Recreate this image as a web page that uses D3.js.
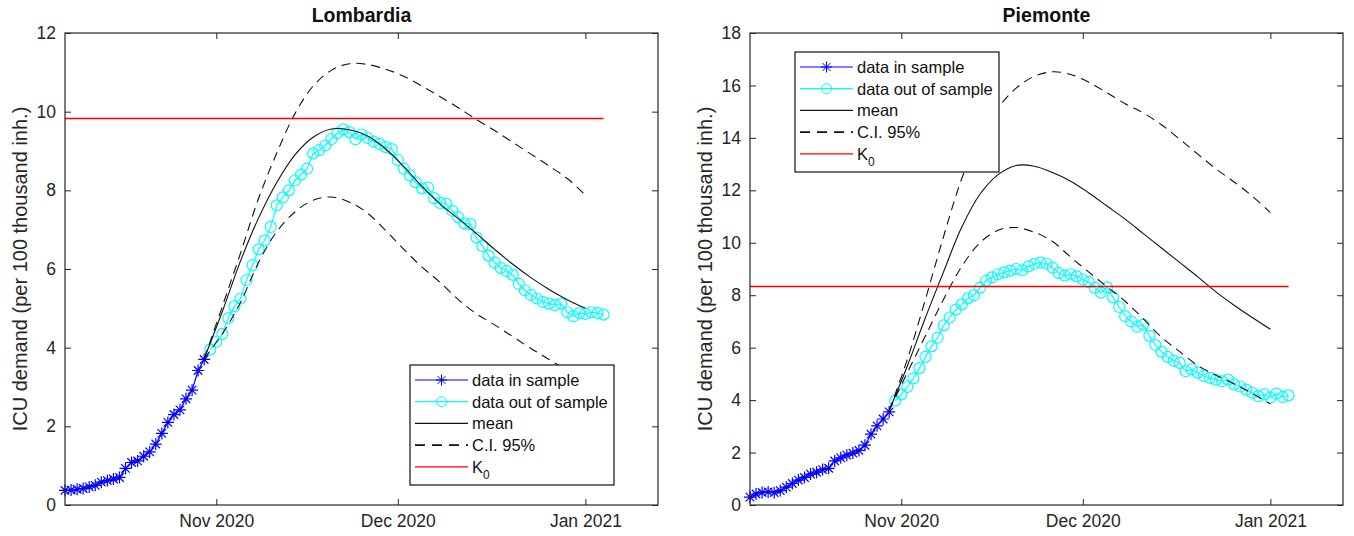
<!DOCTYPE html>
<html>
<head>
<meta charset="utf-8">
<title>ICU demand</title>
<script src="https://cdn.jsdelivr.net/npm/d3@7"></script>
<style>
  body { margin: 0; background: #fff; }
  svg { display: block; font-family: "Liberation Sans", Arial, Helvetica, sans-serif; }
</style>
</head>
<body>
<svg width="1354" height="536"></svg>
<script>
// --- data ---
// days counted from 7 Oct 2020
var startDate = new Date(2020, 9, 7);
var endDate = new Date(2021, 0, 13);
var xTicks = [new Date(2020, 10, 1), new Date(2020, 11, 1), new Date(2021, 0, 1)];
var xTickLabels = ["Nov 2020", "Dec 2020", "Jan 2021"];

var inSampleStart = 0;   // 7 Oct
var outSampleStart = 24; // 31 Oct
var modelDays = [23, 26, 29, 32, 35, 38, 41, 44, 47, 50, 53, 56, 59, 62, 65, 68, 71, 74, 77, 80, 83, 86];

// Lombardia
var lomInSample = [0.37, 0.38, 0.40, 0.42, 0.46, 0.50, 0.58, 0.62, 0.66, 0.70, 0.93, 1.08, 1.12, 1.24,
  1.35, 1.55, 1.82, 2.10, 2.30, 2.42, 2.70, 2.92, 3.42, 3.70];
var lomOutSample = [3.95, 4.15, 4.35, 4.75, 5.05, 5.25, 5.72, 6.10, 6.50, 6.73, 7.07, 7.62, 7.82, 8.00,
  8.25, 8.40, 8.55, 8.94, 9.02, 9.14, 9.30, 9.45, 9.55, 9.48, 9.30, 9.42, 9.33, 9.24, 9.18, 9.10, 9.05,
  8.77, 8.55, 8.38, 8.20, 8.05, 8.07, 7.80, 7.68, 7.66, 7.48, 7.32, 7.16, 7.14, 6.80, 6.58, 6.34, 6.16,
  6.03, 5.95, 5.85, 5.62, 5.46, 5.34, 5.25, 5.16, 5.12, 5.08, 5.12, 4.90, 4.80, 4.88, 4.86, 4.90, 4.88, 4.84];
var lomMean = [3.72, 4.92, 6.20, 7.30, 8.20, 8.90, 9.35, 9.56, 9.54, 9.38, 9.05, 8.60, 8.10, 7.65, 7.28,
  6.90, 6.50, 6.12, 5.78, 5.48, 5.22, 5.00];
var lomUpper = [3.72, 5.05, 6.40, 7.80, 8.95, 9.95, 10.65, 11.05, 11.22, 11.20, 11.08, 10.90, 10.65,
  10.38, 10.10, 9.80, 9.52, 9.22, 8.92, 8.62, 8.30, 7.88];
var lomLower = [3.72, 4.35, 5.15, 6.17, 6.95, 7.45, 7.75, 7.83, 7.70, 7.42, 6.98, 6.50, 6.05, 5.66, 5.22,
  4.86, 4.58, 4.28, 3.98, 3.70, 3.42, 3.15];
var lomK0 = 9.85;

// Piemonte
var pieInSample = [0.30, 0.42, 0.48, 0.50, 0.47, 0.55, 0.68, 0.82, 0.95, 1.05, 1.18, 1.25, 1.35, 1.40,
  1.68, 1.80, 1.90, 1.98, 2.08, 2.28, 2.70, 3.02, 3.28, 3.55];
var pieOutSample = [3.98, 4.22, 4.50, 4.83, 5.22, 5.65, 6.05, 6.38, 6.85, 7.15, 7.45, 7.65, 7.88, 8.00,
  8.28, 8.55, 8.68, 8.80, 8.87, 8.94, 9.00, 8.95, 9.10, 9.20, 9.24, 9.21, 9.05, 8.85, 8.75, 8.80, 8.72,
  8.60, 8.50, 8.28, 8.10, 8.30, 7.92, 7.55, 7.20, 7.00, 6.80, 6.88, 6.45, 6.10, 5.85, 5.65, 5.50, 5.42,
  5.10, 5.18, 5.05, 4.92, 4.85, 4.78, 4.72, 4.78, 4.60, 4.52, 4.40, 4.28, 4.15, 4.22, 4.10, 4.25, 4.12, 4.18];
var pieMean = [3.60, 5.30, 7.15, 8.90, 10.60, 11.85, 12.60, 12.95, 12.92, 12.68, 12.35, 11.90, 11.40,
  10.90, 10.35, 9.80, 9.25, 8.70, 8.13, 7.62, 7.15, 6.70];
var pieUpper = [3.60, 5.55, 7.85, 10.25, 12.45, 14.10, 15.15, 15.90, 16.35, 16.52, 16.42, 16.12, 15.72,
  15.30, 14.95, 14.50, 13.95, 13.38, 12.82, 12.32, 11.78, 11.15];
var pieLower = [3.60, 5.05, 6.45, 7.85, 9.10, 10.00, 10.48, 10.58, 10.40, 10.05, 9.45, 8.88, 8.32, 7.77,
  7.10, 6.40, 5.85, 5.32, 4.95, 4.62, 4.25, 3.85];
var pieK0 = 8.37;

var legendLabels = ["data in sample", "data out of sample", "mean", "C.I. 95%", "K0"];

// --- drawing ---
var svg = d3.select("svg");
var day = function (i) { return d3.timeDay.offset(startDate, i); };
var ink = "#262626";

function starPath(r) {
  var d = r * Math.SQRT1_2;
  return "M" + (-r) + ",0L" + r + ",0M0," + (-r) + "L0," + r +
    "M" + (-d) + "," + (-d) + "L" + d + "," + d + "M" + (-d) + "," + d + "L" + d + "," + (-d);
}

function drawPanel(p) {
  var g = svg.append("g");
  var x = d3.scaleTime().domain([startDate, endDate]).range([p.left, p.right]);
  var y = d3.scaleLinear().domain([0, p.ymax]).range([p.bottom, p.top]);

  var inPts = p.inSample.map(function (v, i) { return { x: day(inSampleStart + i), y: v }; });
  var outPts = p.outSample.map(function (v, i) { return { x: day(outSampleStart + i), y: v }; });
  var lastDay = outSampleStart + p.outSample.length - 1;
  var model = function (arr) { return arr.map(function (v, i) { return { x: day(modelDays[i]), y: v }; }); };

  var dataLine = d3.line().x(function (d) { return x(d.x); }).y(function (d) { return y(d.y); });
  var smooth = d3.line().x(function (d) { return x(d.x); }).y(function (d) { return y(d.y); })
    .curve(d3.curveCatmullRom.alpha(0.5));

  // data in sample
  g.append("path").attr("d", dataLine(inPts)).style("fill", "none").style("stroke", "#0000ff").style("stroke-width", 1.2);
  g.selectAll(".star").data(inPts).enter().append("path")
    .attr("transform", function (d) { return "translate(" + x(d.x) + "," + y(d.y) + ")"; })
    .attr("d", starPath(6)).style("stroke", "#0000ff").style("stroke-width", 1.2).style("fill", "none");

  // data out of sample
  g.append("path").attr("d", dataLine(outPts)).style("fill", "none").style("stroke", "#00ffff").style("stroke-width", 1.2);
  g.selectAll(".circ").data(outPts).enter().append("circle")
    .attr("cx", function (d) { return x(d.x); }).attr("cy", function (d) { return y(d.y); })
    .attr("r", 5.5).style("fill", "none").style("stroke", "#00ffff").style("stroke-width", 1.2);

  // mean and confidence interval
  g.append("path").attr("d", smooth(model(p.mean))).style("fill", "none").style("stroke", "#111").style("stroke-width", 1.1);
  [p.upper, p.lower].forEach(function (arr) {
    g.append("path").attr("d", smooth(model(arr))).style("fill", "none").style("stroke", "#111")
      .style("stroke-width", 1.1).style("stroke-dasharray", "9,6");
  });

  // K0 threshold
  var ky = Math.round(y(p.k0)) + 0.5;
  g.append("path").attr("d", "M" + x(day(0)) + "," + ky + "H" + x(day(lastDay)))
    .style("fill", "none").style("stroke", "#ff0000").style("stroke-width", 1.3);

  // axes (ticks pointing inwards, box around)
  var fmt = function (d, i) { return xTickLabels[i]; };
  var ax = [
    d3.axisBottom(x).tickValues(xTicks).tickFormat(fmt).tickSize(-6).tickPadding(10),
    d3.axisTop(x).tickValues(xTicks).tickFormat("").tickSize(-6),
    d3.axisLeft(y).ticks(6).tickSize(-6).tickPadding(9),
    d3.axisRight(y).ticks(6).tickFormat("").tickSize(-6)
  ];
  var pos = ["translate(0," + p.bottom + ")", "translate(0," + p.top + ")",
    "translate(" + p.left + ",0)", "translate(" + p.right + ",0)"];
  ax.forEach(function (a, i) {
    var ag = g.append("g").attr("transform", pos[i]).call(a.tickSizeOuter(0));
    ag.select(".domain").remove();
    ag.selectAll(".tick line").style("stroke", ink);
    ag.selectAll(".tick text").style("fill", ink).style("font-size", "17.5px")
      .style("font-family", "'Liberation Sans', Arial, sans-serif");
  });
  g.append("rect").attr("x", p.left).attr("y", p.top).attr("width", p.right - p.left)
    .attr("height", p.bottom - p.top).style("fill", "none").style("stroke", ink).style("stroke-width", 1.2);

  // title and y label
  g.append("text").attr("x", (p.left + p.right) / 2).attr("y", 22).attr("text-anchor", "middle")
    .style("font-size", "19.5px").style("font-weight", "bold").style("fill", "#111").text(p.title);
  g.append("text").attr("transform", "translate(" + (p.left - 38) + "," + ((p.top + p.bottom) / 2) + ") rotate(-90)")
    .attr("text-anchor", "middle").style("font-size", "20px").style("fill", ink)
    .text("ICU demand (per 100 thousand inh.)");

  // legend
  var colors = ["#0000ff", "#00ffff", "#111", "#111", "#ff0000"];
  var lg = g.append("g").attr("transform", "translate(" + p.legend[0] + "," + p.legend[1] + ")");
  lg.append("rect").attr("width", 204).attr("height", 120).style("fill", "#fff").style("stroke", "#111").style("stroke-width", 1.2);
  legendLabels.forEach(function (lab, i) {
    var ly = 15 + i * 21.7;
    var ln = lg.append("line").attr("x1", 5).attr("x2", 58).attr("y1", ly).attr("y2", ly)
      .style("stroke", colors[i]).style("stroke-width", i === 3 ? 1.6 : 1.2);
    if (i === 3) ln.style("stroke-dasharray", "10,7");
    if (i === 0) lg.append("path").attr("transform", "translate(31.5," + ly + ")").attr("d", starPath(5.5))
      .style("stroke", colors[0]).style("fill", "none");
    if (i === 1) lg.append("circle").attr("cx", 31.5).attr("cy", ly).attr("r", 5)
      .style("stroke", colors[1]).style("fill", "none");
    var t = lg.append("text").attr("x", 62).attr("y", ly + 6).style("font-size", "16.5px").style("fill", "#111");
    if (i === 4) {
      t.append("tspan").text("K");
      t.append("tspan").attr("dy", 6).style("font-size", "12px").text("0");
    } else {
      t.text(lab);
    }
  });
}

drawPanel({ title: "Lombardia", left: 65, right: 658, top: 33, bottom: 505, ymax: 12,
  inSample: lomInSample, outSample: lomOutSample, mean: lomMean, upper: lomUpper, lower: lomLower, k0: lomK0,
  legend: [410, 365] });
drawPanel({ title: "Piemonte", left: 750, right: 1343, top: 33, bottom: 505, ymax: 18,
  inSample: pieInSample, outSample: pieOutSample, mean: pieMean, upper: pieUpper, lower: pieLower, k0: pieK0,
  legend: [795, 52] });
</script>
</body>
</html>
